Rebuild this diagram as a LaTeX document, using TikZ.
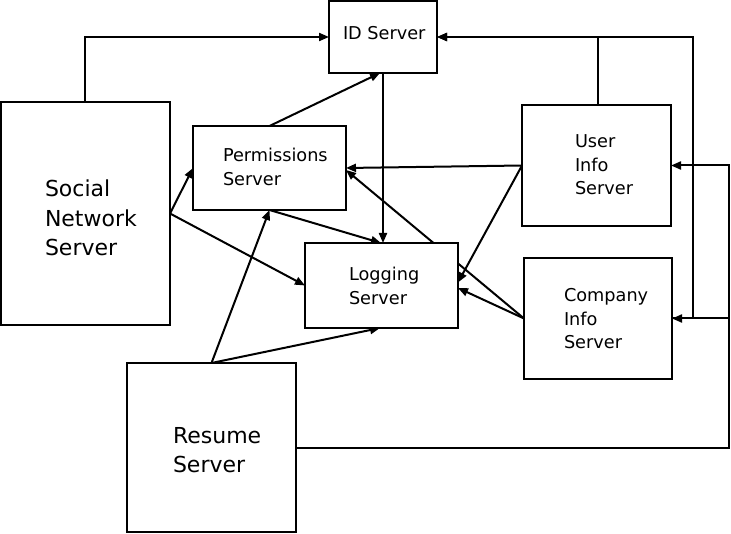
\documentclass[tikz,border=0pt]{standalone}
\usepackage{fontspec}
\setmainfont{DejaVu Sans}
\usetikzlibrary{arrows.meta,backgrounds,calc}
\begin{document}
\begin{tikzpicture}[x=1pt,y=-1pt,
  box/.style={draw,line width=2pt,fill=white,inner sep=0pt,outer sep=0pt},
  lbl/.style={anchor=base west,inner sep=0pt,outer sep=0pt},
  bigtxt/.style={font=\fontsize{22}{29.5}\selectfont},
  smalltxt/.style={font=\fontsize{17.7}{23.5}\selectfont},
  arr/.style={line width=2pt,-{Triangle[length=10pt,width=8pt]}},
  ln/.style={line width=2pt}]
\useasboundingbox (0,0) rectangle (731,534);
% boxes
\node[box,minimum width=108pt,minimum height=72pt] (id) at (383,37) {};
\node[box,minimum width=169pt,minimum height=223pt] (social) at (85.5,213.5) {};
\node[box,minimum width=153pt,minimum height=84pt] (perm) at (269.5,168) {};
\node[box,minimum width=149pt,minimum height=121pt] (user) at (596.5,165.5) {};
\node[box,minimum width=153pt,minimum height=85pt] (log) at (381.5,285.5) {};
\node[box,minimum width=148pt,minimum height=121pt] (comp) at (598,318.5) {};
\node[box,minimum width=169pt,minimum height=169pt] (resume) at (211.5,447.5) {};
% texts
\node[lbl,smalltxt] (idt) at (343,40) {ID Server};
\node[lbl,bigtxt] (socialt) at (45,197) {\begin{tabular}[t]{@{}l@{}}Social\\Network\\Server\end{tabular}};
\node[lbl,smalltxt] (permt) at (223,162) {\begin{tabular}[t]{@{}l@{}}Permissions\\Server\end{tabular}};
\node[lbl,smalltxt] (usert) at (575,148) {\begin{tabular}[t]{@{}l@{}}User\\Info\\Server\end{tabular}};
\node[lbl,smalltxt] (logt) at (349,281) {\begin{tabular}[t]{@{}l@{}}Logging\\Server\end{tabular}};
\node[lbl,smalltxt] (compt) at (564,302) {\begin{tabular}[t]{@{}l@{}}Company\\Info\\Server\end{tabular}};
\node[lbl,bigtxt] (resumet) at (173,443) {\begin{tabular}[t]{@{}l@{}}Resume\\Server\end{tabular}};
\coordinate (bend) at (729,0);
% connectors
\begin{pgfonlayer}{background}
\draw[arr] ([xshift=-0.5pt]social.north) |- (id.west);
\draw[arr] (social.east) -- (perm.west);
\draw[arr] (social.east) -- (log.west);
\draw[arr] (perm.north) -- ([xshift=-3pt]id.south);
\draw[arr] (id.south) -- (id.south |- log.north);
\draw[arr] (perm.south) -- ([xshift=-2pt]id.south |- log.north);
\draw[arr] (comp.west) -- ([yshift=-2pt]perm.east);
\draw[arr] (user.west) -- (perm.east);
\draw[arr] (user.west) -- ([yshift=3pt]log.east);
\draw[arr] (comp.west) -- ([yshift=-2.5pt]log.east);
\draw[arr] ([xshift=1.5pt]user.north) |- (id.east);
\draw[arr] (comp.east) -- ++(21,0) |- (id.east);
\draw[arr] (resume.north) -- (perm.south);
\draw[arr] (resume.north) -- ([xshift=-1.5pt]log.south);
\draw[arr] (resume.east) -| (bend |- user.east) -- (user.east);
\draw[arr] (bend |- comp.east) -- (comp.east);
\end{pgfonlayer}
\end{tikzpicture}
\end{document}
